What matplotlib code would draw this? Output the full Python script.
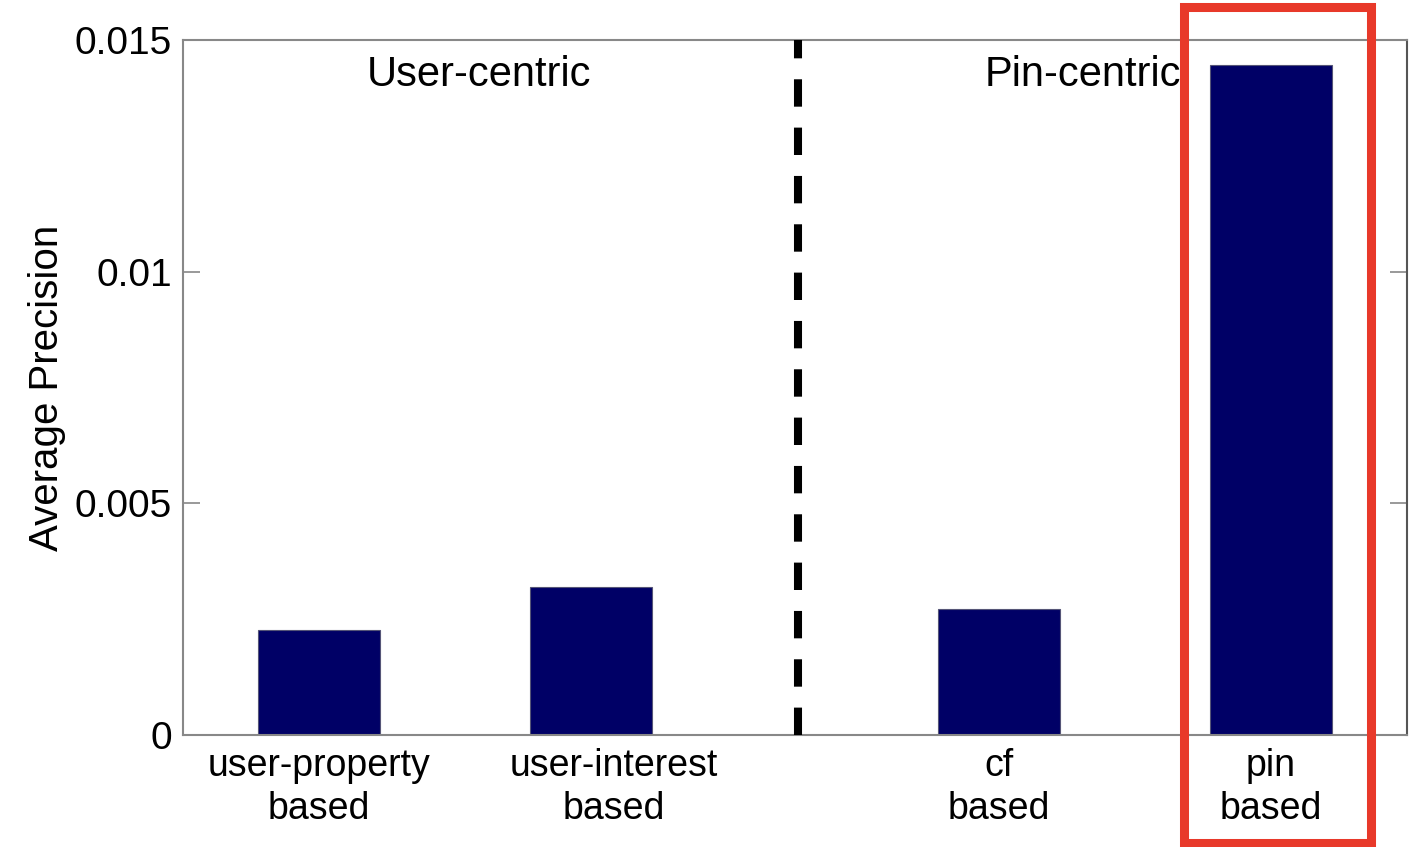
import matplotlib
matplotlib.use("Agg")
import matplotlib.pyplot as plt
from matplotlib.patches import Rectangle
from matplotlib.transforms import ScaledTranslation

plt.rcParams['font.family'] = ['Liberation Sans', 'DejaVu Sans']

categories = ["user-property\nbased", "user-interest\nbased", "cf\nbased", "pin\nbased"]
positions = [1, 2, 3.5, 4.5]
values = [0.00227, 0.00319, 0.00272, 0.01446]
yticks = [0, 0.005, 0.01, 0.015]
ytick_labels = ["0", "0.005", "0.01", "0.015"]
group_labels = ["User-centric", "Pin-centric"]

fig = plt.figure(figsize=(14.25, 8.47), dpi=100)
ax = fig.add_axes([183/1425, 1 - 735/847, (1407-183)/1425, (735-40)/847])

ax.bar(positions, values, width=0.45, color='#000066', edgecolor='#555577', linewidth=0.8, zorder=2)
ax.set_xlim(0.5, 5.0)
ax.set_ylim(0, 0.015)
ax.set_yticks(yticks)
ax.set_yticklabels(ytick_labels, fontsize=28)
ax.set_xticks(positions)
ax.set_xticklabels(categories, fontsize=27, linespacing=1.25)
ax.tick_params(axis='y', direction='in', length=12, width=1.2, color='#888888',
               right=True, pad=8)
ax.tick_params(axis='x', length=0, pad=9)
# the second category label sits slightly right of its bar in the reference
lbl = ax.get_xticklabels()[1]
lbl.set_transform(lbl.get_transform() + ScaledTranslation(0.23, 0, fig.dpi_scale_trans))
for s in ax.spines.values():
    s.set_color('#888888')
    s.set_linewidth(1.5)
ax.spines['right'].set_color('#555555')

ax.set_ylabel("Average Precision", fontsize=29, labelpad=6)

ax.axvline(2.76, color='black', linewidth=5.8, dashes=(3.4, 2.6), zorder=3)

ax.text(1.59, 0.01424, group_labels[0], fontsize=30, ha='center', va='center')
ax.text(3.81, 0.01424, group_labels[1], fontsize=30, ha='center', va='center')

fig.patches.append(Rectangle((1184/1425, 1 - 843/847), (1371-1184)/1425, (843-7)/847,
                             transform=fig.transFigure, fill=False,
                             edgecolor='#E8392A', linewidth=6.5, zorder=10))

fig.savefig("out.png", dpi=100)
